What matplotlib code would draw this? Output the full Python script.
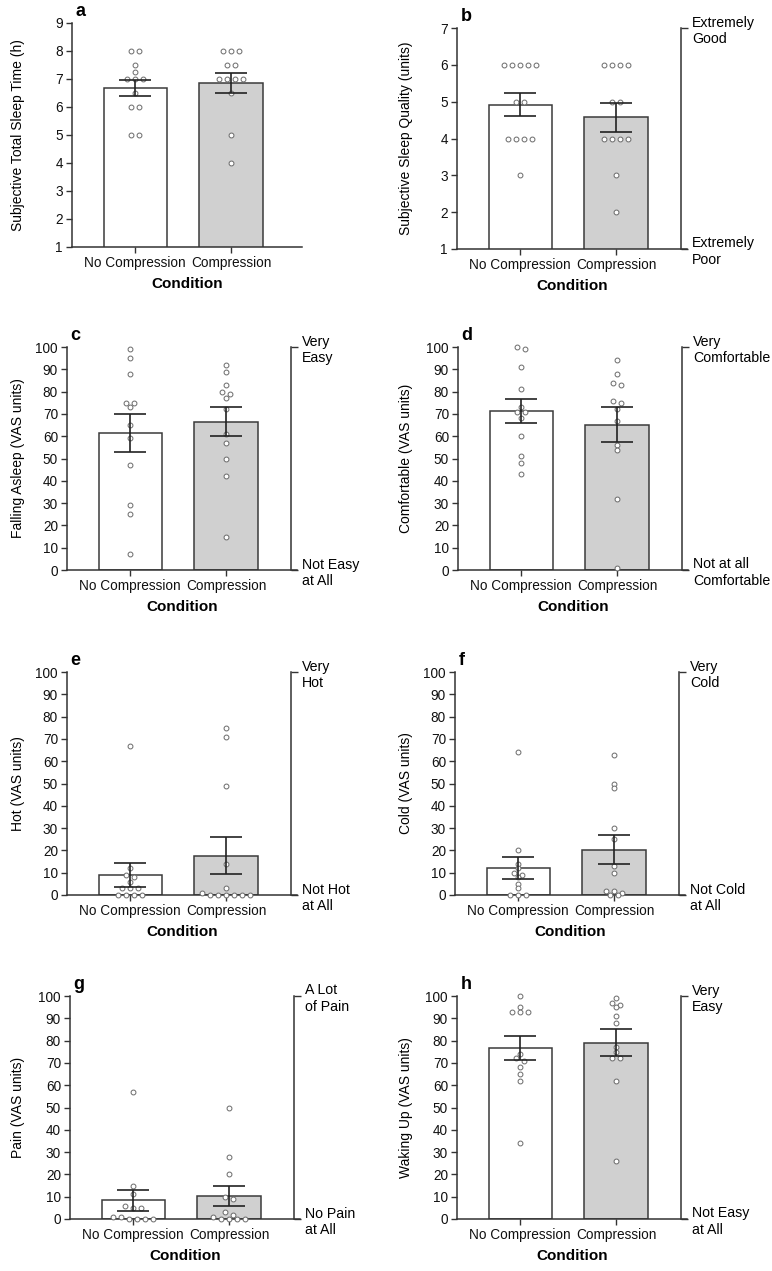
import matplotlib.pyplot as plt
import numpy as np

plt.rcParams['font.family'] = ['Liberation Sans', 'DejaVu Sans']

conditions = ['No Compression', 'Compression']

# individual participant values
sleep_time_nc = [8, 8, 7.5, 7.25, 7, 7, 7, 6.5, 6, 6, 5, 5]
sleep_time_c = [8, 8, 8, 7.5, 7.5, 7, 7, 7, 7, 6.5, 5, 4]
quality_nc = [6, 6, 6, 6, 6, 5, 5, 4, 4, 4, 4, 3]
quality_c = [6, 6, 6, 6, 5, 5, 4, 4, 4, 4, 3, 2]
asleep_nc = [99, 95, 88, 75, 75, 73, 65, 59, 47, 29, 25, 7]
asleep_c = [92, 89, 83, 80, 79, 77, 72, 61, 57, 50, 42, 15]
comfort_nc = [100, 99, 91, 81, 73, 71, 71, 68, 60, 51, 48, 43]
comfort_c = [94, 88, 84, 83, 76, 75, 72, 67, 56, 54, 32, 1]
hot_nc = [67, 12, 9, 8, 6, 3, 3, 3, 0, 0, 0, 0]
hot_c = [75, 71, 49, 14, 3, 1, 0, 0, 0, 0, 0, 0]
cold_nc = [64, 20, 14, 12, 10, 9, 8, 5, 3, 0, 0, 0]
cold_c = [63, 50, 48, 30, 25, 13, 10, 2, 2, 1, 0, 0]
pain_nc = [57, 15, 11, 6, 5, 5, 1, 1, 0, 0, 0, 0]
pain_c = [50, 28, 20, 10, 9, 3, 2, 1, 0, 0, 0, 0]
waking_nc = [100, 95, 93, 93, 93, 74, 72, 71, 68, 65, 62, 34]
waking_c = [99, 97, 96, 95, 91, 88, 77, 75, 72, 72, 62, 26]

# bar heights (mean) and error bars (SEM)
sleep_time_mean = [6.67, 6.86]
sleep_time_sem = [0.29, 0.35]
quality_mean = [4.92, 4.58]
quality_sem = [0.31, 0.39]
asleep_mean = [61.4, 66.4]
asleep_sem = [8.4, 6.5]
comfort_mean = [71.3, 65.2]
comfort_sem = [5.5, 7.7]
hot_mean = [9.1, 17.7]
hot_sem = [5.4, 8.4]
cold_mean = [12.1, 20.3]
cold_sem = [5.0, 6.5]
pain_mean = [8.4, 10.2]
pain_sem = [4.7, 4.5]
waking_mean = [76.7, 79.0]
waking_sem = [5.5, 6.0]

panels = [
    ('a', 'Subjective Total Sleep Time (h)', (1, 9), range(1, 10),
     sleep_time_nc, sleep_time_c, sleep_time_mean, sleep_time_sem, None),
    ('b', 'Subjective Sleep Quality (units)', (1, 7), range(1, 8),
     quality_nc, quality_c, quality_mean, quality_sem, ('Extremely\nGood', 'Extremely\nPoor')),
    ('c', 'Falling Asleep (VAS units)', (0, 100), range(0, 101, 10),
     asleep_nc, asleep_c, asleep_mean, asleep_sem, ('Very\nEasy', 'Not Easy\nat All')),
    ('d', 'Comfortable (VAS units)', (0, 100), range(0, 101, 10),
     comfort_nc, comfort_c, comfort_mean, comfort_sem, ('Very\nComfortable', 'Not at all\nComfortable')),
    ('e', 'Hot (VAS units)', (0, 100), range(0, 101, 10),
     hot_nc, hot_c, hot_mean, hot_sem, ('Very\nHot', 'Not Hot\nat All')),
    ('f', 'Cold (VAS units)', (0, 100), range(0, 101, 10),
     cold_nc, cold_c, cold_mean, cold_sem, ('Very\nCold', 'Not Cold\nat All')),
    ('g', 'Pain (VAS units)', (0, 100), range(0, 101, 10),
     pain_nc, pain_c, pain_mean, pain_sem, ('A Lot\nof Pain', 'No Pain\nat All')),
    ('h', 'Waking Up (VAS units)', (0, 100), range(0, 101, 10),
     waking_nc, waking_c, waking_mean, waking_sem, ('Very\nEasy', 'Not Easy\nat All')),
]

W, H = 772, 1271
# pixel layout: (axis x, x-axis y, axis height)
boxes = [(72, 247, 224), (457, 249, 221),
         (67, 570, 223), (458, 570, 223),
         (67, 895, 223), (455, 895, 223),
         (70, 1219, 223), (457, 1219, 223)]
AX_W = 230
XLIM = (-0.66, 1.74)
PX_PER_X = AX_W / (XLIM[1] - XLIM[0])
DARK = '#333333'


def swarm(values, px_per_unit, step_px=8.0, tol_px=4.0):
    # group near-equal values into rows and spread each row symmetrically
    order = sorted(range(len(values)), key=lambda i: -values[i])
    offsets = np.zeros(len(values))
    rows = []
    for i in order:
        if rows and abs(values[rows[-1][0]] - values[i]) * px_per_unit < tol_px:
            rows[-1].append(i)
        else:
            rows.append([i])
    for row in rows:
        n = len(row)
        for k, i in enumerate(row):
            offsets[i] = (k - (n - 1) / 2) * step_px / PX_PER_X
    return offsets


fig = plt.figure(figsize=(W / 100, H / 100), dpi=100)

for (letter, ylabel, ylim, yticks, nc, c, means, sems, anchors), (x0, yb, h) in zip(panels, boxes):
    ax = fig.add_axes([x0 / W, 1 - yb / H, AX_W / W, h / H])
    x = np.arange(2)
    ax.bar(x, means, width=0.66, color=['white', '#d0d0d0'], edgecolor='#3a3a3a',
           linewidth=1.1, zorder=2)
    px_per_unit = h / (ylim[1] - ylim[0])
    for xi, vals in zip(x, [nc, c]):
        off = swarm(vals, px_per_unit)
        ax.plot(xi + off, vals, 'o', ms=3.5, mfc='white', mec='#6a6a6a', mew=0.7,
                zorder=3, clip_on=False)
    ax.errorbar(x, means, yerr=sems, fmt='none', ecolor='#222222', elinewidth=1.2,
                capsize=11.5, capthick=1.2, zorder=4)

    ax.set_xlim(*XLIM)
    ax.set_ylim(*ylim)
    ax.set_yticks(list(yticks))
    ax.set_xticks(x)
    ax.set_xticklabels(conditions)
    for s in ['top', 'right']:
        ax.spines[s].set_visible(False)
    for s in ['left', 'bottom']:
        ax.spines[s].set_color(DARK)
        ax.spines[s].set_linewidth(1.1)
    ax.tick_params(axis='both', direction='out', length=4, width=1, color=DARK,
                   labelsize=9.8, pad=2.5, labelcolor='#111111')
    ax.set_xlabel('Condition', fontsize=11, fontweight='bold', labelpad=5)
    ax.set_ylabel(ylabel, fontsize=10)
    label_right_px = 25 if x0 < 300 else 413
    ax.yaxis.set_label_coords((label_right_px - x0) / AX_W, 0.5)
    ax.text(0.015, 1.015, letter, transform=ax.transAxes, fontsize=13,
            fontweight='bold', ha='left', va='bottom')

    if anchors is not None:
        ax2 = ax.twinx()
        ax2.set_ylim(*ylim)
        for s in ['top', 'left', 'bottom']:
            ax2.spines[s].set_visible(False)
        ax2.spines['right'].set_position(('data', 1.68))
        ax2.spines['right'].set_color(DARK)
        ax2.spines['right'].set_linewidth(1.1)
        ax2.set_yticks([ylim[1], ylim[0]])
        ax2.set_yticklabels(list(anchors), fontsize=10.2, linespacing=1.25)
        ax2.tick_params(axis='y', direction='out', length=5, width=1, color=DARK, pad=3)

fig.savefig('out.png', dpi=100)
